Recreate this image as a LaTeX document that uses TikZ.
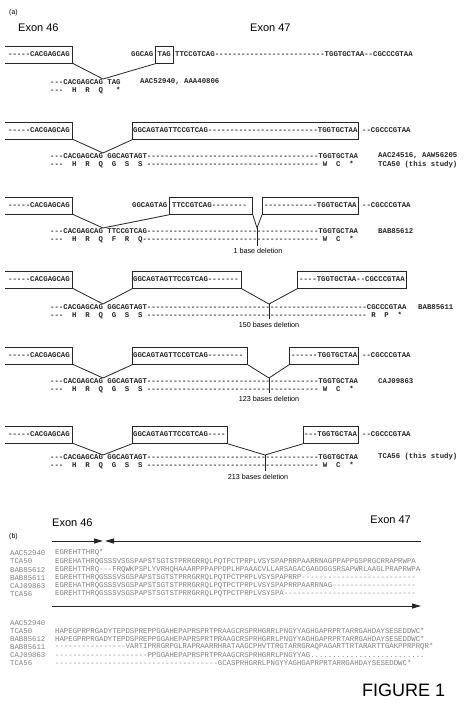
\documentclass[tikz,border=0pt]{standalone}
\usepackage{fontspec}
\setmainfont{Liberation Sans}
\newfontfamily\monof{Liberation Mono}
\newfontfamily\monob{Liberation Mono Bold}
\usetikzlibrary{arrows.meta}
\newcommand\rep[2]{\ifnum#1>0 #2\expandafter\rep\expandafter{\the\numexpr#1-1\relax}{#2}\fi}
\begin{document}
\begin{tikzpicture}[x=1pt,y=-1pt,
  dna/.style={font=\monob\fontsize{7.33}{8}\selectfont, anchor=west, inner sep=0pt, text=black!85},
  aln/.style={font=\monof\fontsize{7.33}{8}\selectfont, anchor=west, inner sep=0pt, text=black!50},
  lbl/.style={font=\fontsize{7.2}{8}\selectfont, inner sep=0pt},
  exon/.style={font=\fontsize{11}{12}\selectfont, inner sep=0pt},
  ln/.style={line width=0.8pt, draw=black!85},
  bx/.style={draw=black!85, line width=0.8pt, inner sep=0pt, anchor=north west, minimum height=17pt},
  arr/.style={line width=1pt, draw=black!85, -{Triangle[length=9pt,width=5pt]}}]
\useasboundingbox (0,0) rectangle (465,715);
\fill[white] (0,0) rectangle (465,715);
% ---------------- (a)
\node[font=\fontsize{7}{8}\selectfont, anchor=west, inner sep=0pt] (pa) at (9,13) {(a)};
\node[exon, anchor=west] (e46) at (18,28) {Exon 46};
\node[exon, anchor=west] (e47) at (250,28) {Exon 47};
% row 1
\draw[ln] (5,46) -| (72,63) -- (5,63);
\coordinate (L1) at (72,63);
\node[dna] (t1a) at (8,54.5) {-----CACGAGCAG};
\node[dna] (t1b) at (131,54.5) {GGCAG};
\node[bx, minimum width=18pt] (b1) at (155,46) {};
\node[dna] (t1c) at (157.5,54.5) {TAG};
\node[dna] (t1d) at (175,54.5) {TTCCGTCAG\rep{25}{-}TGGTGCTAA--CGCCCGTAA};
\coordinate (a1) at (103,79);
\draw[ln] (L1) -- (a1) -- (b1.south west);
\node[dna] (s1) at (50,82) {---CACGAGCAG~TAG};
\node[dna] (id1) at (140,82) {AAC52940, AAA40806};
\node[dna] (p1) at (50,91) {---~~H~~R~~Q~~~*};
% row 2
\draw[ln] (5,122) -| (72,139) -- (5,139);
\coordinate (L2) at (72,139);
\node[dna] (t2a) at (8,130.5) {-----CACGAGCAG};
\node[bx, minimum width=226pt] (b2) at (132,122) {};
\node[dna] (t2b) at (133,130.5) {GGCAGTAGTTCCGTCAG\rep{25}{-}TGGTGCTAA};
\node[dna] (t2c) at (362,130.5) {--CGCCCGTAA};
\coordinate (a2) at (103,153);
\draw[ln] (L2) -- (a2) -- (b2.south west);
\node[dna] (s2) at (50,156) {---CACGAGCAG~GGCAGTAGT\rep{39}{-}TGGTGCTAA};
\node[dna] (id2) at (378,156) {AAC24516, AAW56205};
\node[dna] (p2) at (50,165) {---~~H~~R~~Q~~G~~S~~S~\rep{39}{-}~W~~C~~*};
\node[dna] (id2b) at (378,165) {TCA50 (this study)};
% row 3
\draw[ln] (5,197) -| (72,214) -- (5,214);
\coordinate (L3) at (72,214);
\node[dna] (t3a) at (8,205.5) {-----CACGAGCAG};
\node[dna] (t3b) at (132,205.5) {GGCAGTAG};
\node[bx, minimum width=83pt] (b3a) at (169,197) {};
\node[dna] (t3c) at (172,205.5) {TTCCGTCAG\rep{8}{-}};
\node[bx, minimum width=96pt] (b3b) at (262,197) {};
\node[dna] (t3d) at (264,205.5) {\rep{12}{-}TGGTGCTAA};
\node[dna] (t3e) at (362,205.5) {--CGCCCGTAA};
\coordinate (a3) at (103,228);
\draw[ln] (L3) -- (a3) -- (b3a.south west);
\coordinate (d3) at (257,228);
\coordinate (d3e) at (257,246);
\draw[ln] (b3a.south east) -- (d3) -- (b3b.south west);
\draw[ln] (d3) -- (d3e);
\node[dna] (s3) at (50,231) {---CACGAGCAG~TTCCGTCAG\rep{39}{-}TGGTGCTAA};
\node[dna] (id3) at (378,231) {BAB85612};
\node[dna] (p3) at (50,240) {---~~H~~R~~Q~~F~~R~~Q\rep{40}{-}~W~~C~~*};
\node[lbl] (l3) at (258,251) {1 base deletion};
% row 4
\draw[ln] (5,271) -| (72,288) -- (5,288);
\coordinate (L4) at (72,288);
\node[dna] (t4a) at (8,279.5) {-----CACGAGCAG};
\node[bx, minimum width=109pt] (b4a) at (132,271) {};
\node[dna] (t4b) at (133,279.5) {GGCAGTAGTTCCGTCAG\rep{7}{-}};
\node[bx, minimum width=109pt] (b4b) at (297,271) {};
\node[dna] (t4c) at (299,279.5) {----TGGTGCTAA--CGCCCGTAA};
\coordinate (a4) at (103,304);
\draw[ln] (L4) -- (a4) -- (b4a.south west);
\coordinate (d4) at (269,304);
\coordinate (d4e) at (269,319);
\draw[ln] (b4a.south east) -- (d4) -- (b4b.south west);
\draw[ln] (d4) -- (d4e);
\node[dna] (s4) at (50,307) {---CACGAGCAG~GGCAGTAGT\rep{50}{-}CGCCCGTAA};
\node[dna] (id4) at (418,307) {BAB85611};
\node[dna] (p4) at (50,316) {---~~H~~R~~Q~~G~~S~~S~\rep{50}{-}~R~~P~~*};
\node[lbl] (l4) at (269,325) {150 bases deletion};
% row 5
\draw[ln] (5,347) -| (72,364) -- (5,364);
\coordinate (L5) at (72,364);
\node[dna] (t5a) at (8,355.5) {-----CACGAGCAG};
\node[bx, minimum width=115pt] (b5a) at (132,347) {};
\node[dna] (t5b) at (133,355.5) {GGCAGTAGTTCCGTCAG\rep{8}{-}};
\node[bx, minimum width=69pt] (b5b) at (289,347) {};
\node[dna] (t5c) at (291,355.5) {\rep{6}{-}TGGTGCTAA};
\node[dna] (t5d) at (362,355.5) {--CGCCCGTAA};
\coordinate (a5) at (103,378);
\draw[ln] (L5) -- (a5) -- (b5a.south west);
\coordinate (d5) at (269,378);
\coordinate (d5e) at (269,393);
\draw[ln] (b5a.south east) -- (d5) -- (b5b.south west);
\draw[ln] (d5) -- (d5e);
\node[dna] (s5) at (50,381) {---CACGAGCAG~GGCAGTAGT\rep{39}{-}TGGTGCTAA};
\node[dna] (id5) at (378,381) {CAJ09863};
\node[dna] (p5) at (50,390) {---~~H~~R~~Q~~G~~S~~S~\rep{39}{-}~W~~C~~*};
\node[lbl] (l5) at (269,399) {123 bases deletion};
% row 6
\draw[ln] (5,426) -| (72,443) -- (5,443);
\coordinate (L6) at (72,443);
\node[dna] (t6a) at (8,434.5) {-----CACGAGCAG};
\node[bx, minimum width=95pt] (b6a) at (132,426) {};
\node[dna] (t6b) at (133,434.5) {GGCAGTAGTTCCGTCAG\rep{4}{-}};
\node[bx, minimum width=55pt] (b6b) at (303,426) {};
\node[dna] (t6c) at (304,434.5) {---TGGTGCTAA};
\node[dna] (t6d) at (362,434.5) {--CGCCCGTAA};
\coordinate (a6) at (103,455);
\draw[ln] (L6) -- (a6) -- (b6a.south west);
\coordinate (d6) at (265,455);
\coordinate (d6e) at (265,471);
\draw[ln] (b6a.south east) -- (d6) -- (b6b.south west);
\draw[ln] (d6) -- (d6e);
\node[dna] (s6) at (50,457) {---CACGAGCAG~GGCAGTAGT\rep{39}{-}TGGTGCTAA};
\node[dna] (id6) at (378,457) {TCA56 (this study)};
\node[dna] (p6) at (50,466) {---~~H~~R~~Q~~G~~S~~S~\rep{39}{-}~W~~C~~*};
\node[lbl] (l6) at (258,477) {213 bases deletion};
% ---------------- (b)
\node[font=\fontsize{7}{8}\selectfont, anchor=west, inner sep=0pt] (pb) at (9,537) {(b)};
\node[exon, anchor=west] (e46b) at (52,523) {Exon 46};
\node[exon, anchor=east] (e47b) at (411,520) {Exon 47};
\coordinate (r1s) at (52,541);
\coordinate (r1e) at (103,541);
\coordinate (r2s) at (421,541);
\coordinate (r2e) at (105,541);
\coordinate (r3s) at (52,606);
\coordinate (r3e) at (421,606);
\draw[arr] (r1s) -- (r1e);
\draw[arr] (r2s) -- (r2e);
\draw[arr] (r3s) -- (r3e);
% block 1
\node[aln] (n11) at (10,553) {AAC52940};
\node[aln] (n12) at (10,561.5) {TCA50};
\node[aln] (n13) at (10,570) {BAB85612};
\node[aln] (n14) at (10,578) {BAB85611};
\node[aln] (n15) at (10,586) {CAJ09863};
\node[aln] (n16) at (10,594) {TCA56};
\node[aln] (q11) at (55,553) {EGREHTTHRQ*};
\node[aln] (q12) at (55,561.5) {EGREHATHRQGSSSVSGSPAPSTSGTSTPRRGRRQLPQTPCTPRPLVSYSPAPRRPAARRNAGPPAPPGSPRGCRRAPRWPA};
\node[aln] (q13) at (55,570) {EGREHTTHRQ---FRQWKPSPLYVRHQHAAARPPPAPPDPLHPAAACVLLARSAGACGAGDGGSRSAPWRLAAGLPRAPRWPA};
\node[aln] (q14) at (55,578) {EGREHTTHRQGSSSVSGSPAPSTSGTSTPRRGRRQLPQTPCTPRPLVSYSPAPRRP\rep{26}{-}};
\node[aln] (q15) at (55,586) {EGREHATHRQGSSSVSGSPAPSTSGTSTPRRGRRQLPQTPCTPRPLVSYSPAPRRPAARRNAG\rep{19}{-}};
\node[aln] (q16) at (55,594) {EGREHTTHRQGSSSVSGSPAPSTSGTSTPRRGRRQLPQTPCTPRPLVSYSPA\rep{30}{-}};
% block 2
\node[aln] (n21) at (10,623) {AAC52940};
\node[aln] (n22) at (10,631) {TCA50};
\node[aln] (n23) at (10,639) {BAB85612};
\node[aln] (n24) at (10,647) {BAB85611};
\node[aln] (n25) at (10,655) {CAJ09863};
\node[aln] (n26) at (10,663) {TCA56};
\node[aln] (q22) at (55,631) {HAPEGPRPRGADYTEPDSPREPPGGAHEPAPRSPRTPRAAGCRSPRHGRRLPNGYYAGHGAPRPRTARRGAHDAYSESEDDWC*};
\node[aln] (q23) at (55,639) {HAPEGPRPRGADYTEPDSPREPPGGAHEPAPRSPRTPRAAGCRSPRHGRRLPNGYYAGHGAPRPRTARRGAHDAYSESEDDWC*};
\node[aln] (q24) at (55,647) {\rep{16}{-}VARTIPRRGRPGLRAPRAARRHRATAAGCPHVTTRGTARRGRAQPAGARTTRTARARTTGAKPPRPRQR*};
\node[aln] (q25) at (55,655) {\rep{21}{-}PPGGAHEPAPRSPRTPRAAGCRSPRHGRRLPNGYYAG\rep{26}{.}};
\node[aln] (q26) at (55,663) {\rep{37}{-}GCASPRHGRRLPNGYYAGHGAPRPRTARRGAHDAYSESEDDWC*};
\node[font=\fontsize{18}{20}\selectfont, anchor=west, inner sep=0pt] (fig) at (362,690) {FIGURE 1};
\end{tikzpicture}
\end{document}
